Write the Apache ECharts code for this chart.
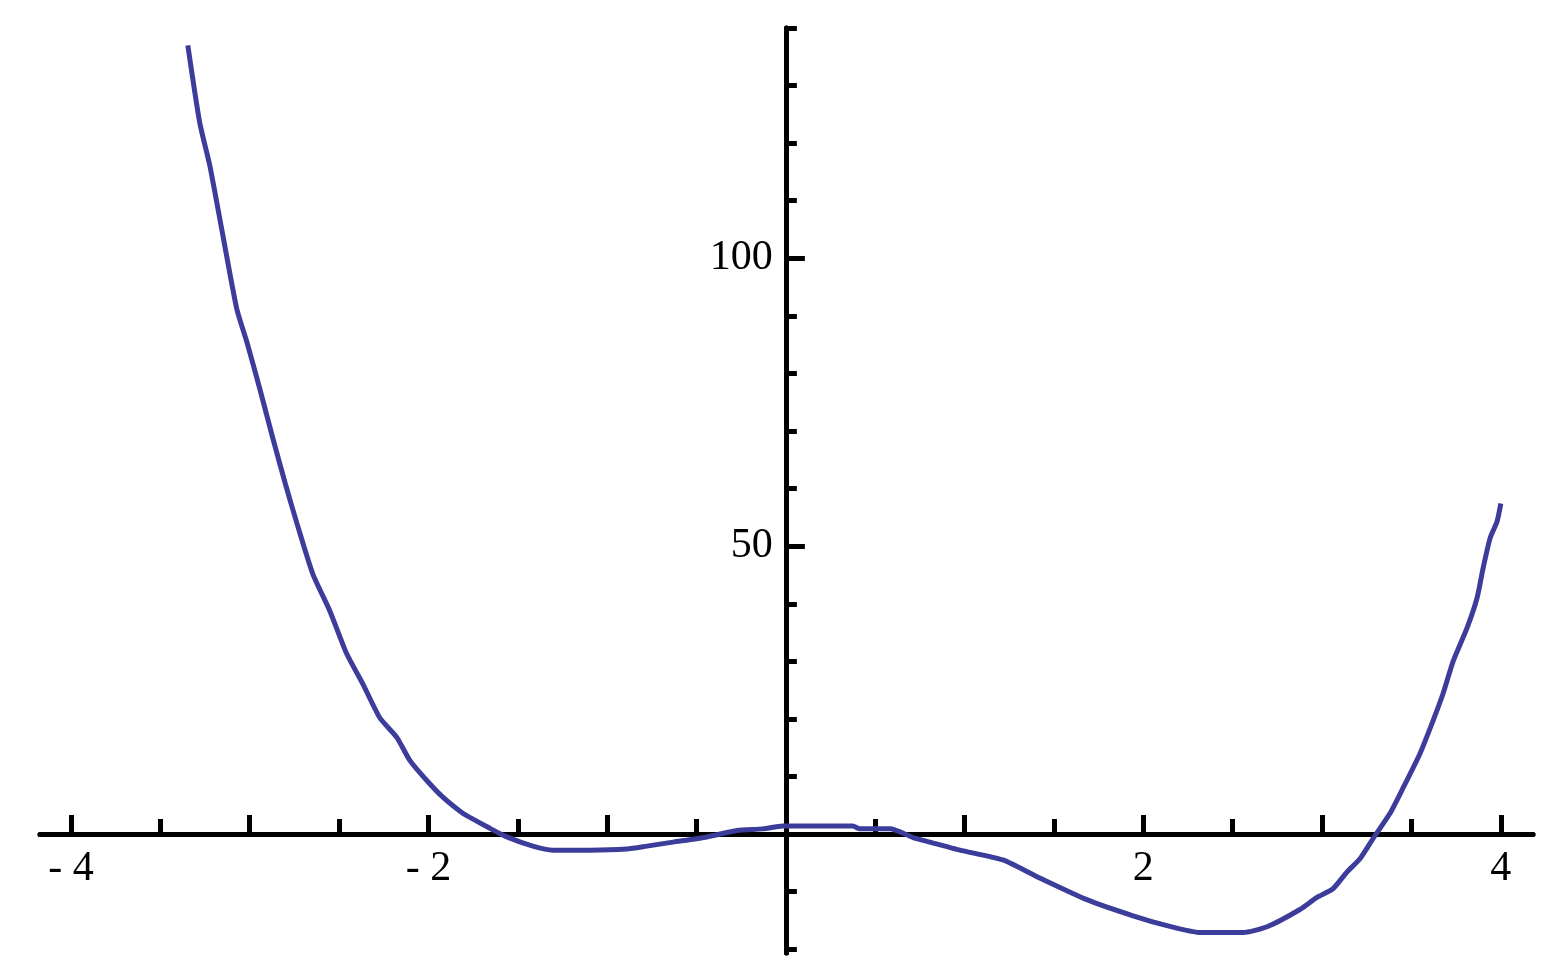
<!DOCTYPE html>
<html>
<head>
<meta charset="utf-8">
<script src="https://cdn.jsdelivr.net/npm/echarts@6/dist/echarts.min.js"></script>
<style>
    html, body { margin: 0; padding: 0; background: #ffffff; }
    #plot { width: 1568px; height: 980px; }
</style>
</head>
<body>
<div id="plot"></div>
<script>
// curve points
const xValues = [
    -3.346, -3.279, -3.223, -3.150, -3.072, -3.016, -2.943, -2.870, -2.800, -2.736,
    -2.647, -2.552, -2.457, -2.367, -2.272, -2.177, -2.104, -2.009, -1.919, -1.808,
    -1.768, -1.656, -1.561, -1.416, -1.304, -1.097, -0.890, -0.778, -0.632, -0.442,
    -0.274, -0.129, -0.017, 0.190, 0.375, 0.414, 0.582, 0.711, 0.806, 0.974,
    1.214, 1.405, 1.684, 1.942, 2.132, 2.317, 2.557, 2.692, 2.876, 2.971,
    3.061, 3.139, 3.212, 3.285, 3.380, 3.453, 3.548, 3.621, 3.677, 3.733,
    3.811, 3.867, 3.901, 3.940, 3.979, 4.000
];
const yValues = [
    137.0, 123.5, 116.1, 104.0, 91.2, 85.5, 77.3, 68.7, 60.8, 54.0,
    45.2, 38.8, 31.3, 26.1, 20.2, 16.8, 12.8, 9.3, 6.4, 3.6,
    2.9, 1.0, -0.5, -2.1, -2.8, -2.8, -2.6, -2.1, -1.4, -0.5,
    0.6, 0.9, 1.4, 1.4, 1.4, 0.9, 0.9, -0.6, -1.4, -2.8,
    -4.5, -7.4, -11.4, -14.2, -15.9, -17.1, -17.1, -16.1, -13.1, -11.0,
    -9.5, -6.6, -4.3, -0.8, 3.6, 8.0, 14.0, 19.7, 24.4, 30.0,
    35.8, 41.0, 46.2, 51.4, 54.3, 57.4
];

const xMajorTicks = [-4, -3, -2, -1, 1, 2, 3, 4];
const xMinorTicks = [-3.5, -2.5, -1.5, -0.5, 0.5, 1.5, 2.5, 3.5];
const xTickLabels = [-4, -2, 2, 4];
const yMajorTicks = [50, 100];
const yMinorTicks = [-20, -10, 10, 20, 30, 40, 60, 70, 80, 90, 110, 120, 130, 140];
const yTickLabels = [50, 100];

document.addEventListener("DOMContentLoaded", function () {
    const el = document.getElementById("plot");
    const chart = echarts.init(el);
    const ink = "#000000";
    const curveColor = "#3c3c9b";
    const xRange = { min: -4.173, max: 4.18 };
    const yRange = { min: -20.66, max: 140 };
    const gridBox = { left: 40, right: 35, top: 28, bottom: 27, containLabel: false, outerBoundsMode: "none" };

    // where zero sits inside the grid, so the label-only axes can be pulled onto the axis lines
    const gridW = el.clientWidth - gridBox.left - gridBox.right;
    const gridH = el.clientHeight - gridBox.top - gridBox.bottom;
    const xLabelOffset = -(0 - yRange.min) / (yRange.max - yRange.min) * gridH;
    const yLabelOffset = -(0 - xRange.min) / (xRange.max - xRange.min) * gridW;

    const labelFont = {
        color: ink,
        fontFamily: "Liberation Serif",
        fontSize: 42
    };

    function tickAxis(gridIndex, range, ticks, length) {
        return {
            type: "value",
            gridIndex: gridIndex,
            min: range.min,
            max: range.max,
            axisLine: { show: true, onZero: true, lineStyle: { color: ink, width: 5 } },
            axisTick: { show: true, inside: true, length: length, customValues: ticks, lineStyle: { color: ink, width: 5 } },
            axisLabel: { show: false },
            splitLine: { show: false }
        };
    }

    function labelAxis(gridIndex, range, labels, offset, margin, formatter) {
        return {
            type: "value",
            gridIndex: gridIndex,
            min: range.min,
            max: range.max,
            offset: offset,
            axisLine: { show: false, onZero: false },
            axisTick: { show: false },
            axisLabel: Object.assign({
                show: true,
                customValues: labels,
                margin: margin,
                formatter: formatter
            }, labelFont),
            splitLine: { show: false }
        };
    }

    chart.setOption({
        animation: false,
        backgroundColor: "#ffffff",
        grid: [
            Object.assign({}, gridBox),
            Object.assign({}, gridBox),
            Object.assign({}, gridBox)
        ],
        xAxis: [
            tickAxis(0, xRange, xMajorTicks, 19),
            tickAxis(1, xRange, xMinorTicks, 15),
            labelAxis(2, xRange, xTickLabels, xLabelOffset, 14, v => (v < 0 ? "- " + Math.abs(v) : String(v)))
        ],
        yAxis: [
            tickAxis(0, yRange, yMajorTicks, 19),
            tickAxis(1, yRange, yMinorTicks, 11),
            labelAxis(2, yRange, yTickLabels, yLabelOffset, 13, v => String(v))
        ],
        series: [
            {
                type: "line",
                xAxisIndex: 0,
                yAxisIndex: 0,
                data: xValues.map((x, i) => [x, yValues[i]]),
                showSymbol: false,
                smooth: 0.2,
                lineStyle: { color: curveColor, width: 5 },
                z: 1
            }
        ]
    });

    window.addEventListener("resize", () => chart.resize());
});
</script>
</body>
</html>
